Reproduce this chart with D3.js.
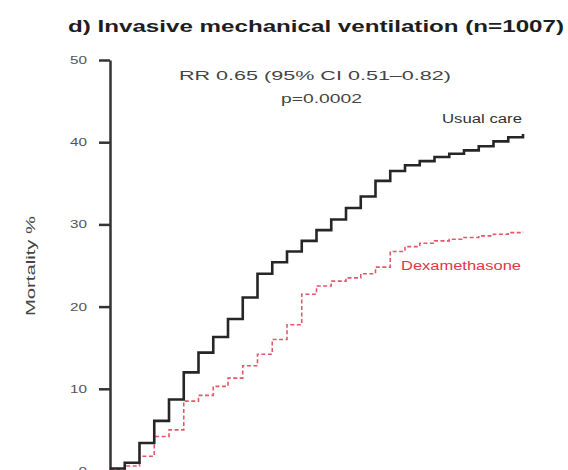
<!DOCTYPE html>
<html>
<head>
<meta charset="utf-8">
<script src="https://cdn.jsdelivr.net/npm/d3@7/dist/d3.min.js"></script>
<style>
  html, body { margin: 0; padding: 0; background: #fff; }
  svg { display: block; }
  text { font-family: "Liberation Sans", Arial, sans-serif; }
</style>
</head>
<body>
<svg id="chart" width="568" height="470"></svg>
<script>
// ---- data ----
const days = [0, 1, 2, 3, 4, 5, 6, 7, 8, 9, 10, 11, 12, 13, 14, 15, 16, 17, 18, 19, 20, 21, 22, 23, 24, 25, 26, 27, 28];
const usualCare = [0.3, 1.0, 3.4, 6.1, 8.7, 12.0, 14.4, 16.3, 18.5, 21.1, 24.0, 25.4, 26.7, 28.0, 29.3, 30.6, 32.0, 33.4, 35.3, 36.5, 37.2, 37.7, 38.2, 38.6, 39.0, 39.5, 40.1, 40.6, 41.0];
const dexamethasone = [0.2, 0.6, 1.8, 4.2, 5.0, 8.5, 9.2, 10.3, 11.3, 12.8, 14.2, 16.0, 17.8, 21.5, 22.5, 23.1, 23.5, 24.0, 24.8, 26.7, 27.3, 27.7, 28.0, 28.2, 28.4, 28.6, 28.8, 29.0, 29.1];
const yTicks = [0, 10, 20, 30, 40, 50];
const seriesNames = ["Usual care", "Dexamethasone"];
const titleText = "d) Invasive mechanical ventilation (n=1007)";
const rrText = "RR 0.65 (95% CI 0.51\u20130.82)";
const pText = "p=0.0002";
const yLabel = "Mortality %";

// ---- layout ----
const svg = d3.select("#chart");
const x = d3.scaleLinear().domain([0, 28]).range([110, 523]);
const y = d3.scaleLinear().domain([0, 50]).range([471, 60]);

// title
svg.append("text")
  .attr("x", 68).attr("y", 32)
  .attr("font-size", 17).attr("font-weight", "bold")
  .attr("fill", "#1e1e1e")
  .attr("textLength", 496).attr("lengthAdjust", "spacingAndGlyphs")
  .text(titleText);

// annotations
svg.append("text")
  .attr("x", 179).attr("y", 80)
  .attr("font-size", 13).attr("fill", "#444")
  .attr("textLength", 272).attr("lengthAdjust", "spacingAndGlyphs")
  .text(rrText);
svg.append("text")
  .attr("x", 281).attr("y", 103)
  .attr("font-size", 13).attr("fill", "#444")
  .attr("textLength", 81).attr("lengthAdjust", "spacingAndGlyphs")
  .text(pText);

// y axis
const yAxis = d3.axisLeft(y).tickValues(yTicks).tickSize(11).tickSizeOuter(0).tickPadding(12);
const gy = svg.append("g").attr("transform", "translate(110,0)").call(yAxis);
gy.select(".domain").attr("stroke", "#333").attr("stroke-width", 2.5);
gy.selectAll(".tick line").attr("stroke", "#333").attr("stroke-width", 2.5);
gy.selectAll(".tick text")
  .attr("font-size", 11).attr("fill", "#555")
  .attr("font-family", "\"Liberation Sans\", Arial, sans-serif")
  .attr("textLength", d => String(d).length * 8.5)
  .attr("lengthAdjust", "spacingAndGlyphs");

// y label
svg.append("text")
  .attr("transform", "translate(35,266) rotate(-90)")
  .attr("text-anchor", "middle")
  .attr("font-size", 13).attr("fill", "#444")
  .attr("textLength", 100).attr("lengthAdjust", "spacingAndGlyphs")
  .text(yLabel);

// curves
const line = d3.line()
  .x((d, i) => x(days[i]))
  .y(d => y(d))
  .curve(d3.curveStepAfter);

svg.append("path")
  .datum(dexamethasone)
  .attr("fill", "none")
  .attr("stroke", "#e4566a")
  .attr("stroke-width", 1.6)
  .attr("stroke-dasharray", "4,2.5")
  .attr("d", line);

svg.append("path")
  .datum(usualCare)
  .attr("fill", "none")
  .attr("stroke", "#262626")
  .attr("stroke-width", 2.6)
  .attr("d", line);

// series labels
svg.append("text")
  .attr("x", 522).attr("y", 123)
  .attr("text-anchor", "end")
  .attr("font-size", 12).attr("fill", "#333")
  .attr("textLength", 80).attr("lengthAdjust", "spacingAndGlyphs")
  .text(seriesNames[0]);
svg.append("text")
  .attr("x", 521).attr("y", 270)
  .attr("text-anchor", "end")
  .attr("font-size", 12).attr("fill", "#e0354b")
  .attr("textLength", 120).attr("lengthAdjust", "spacingAndGlyphs")
  .text(seriesNames[1]);
</script>
</body>
</html>
